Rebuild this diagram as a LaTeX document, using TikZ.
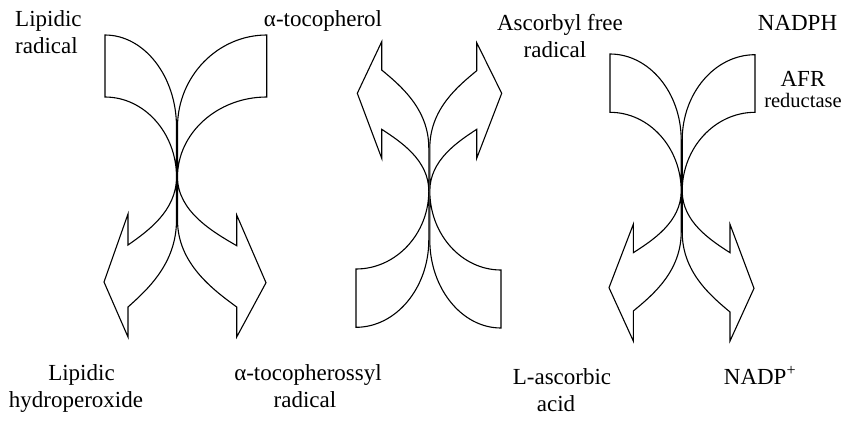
\documentclass[tikz,border=0pt]{standalone}
\usepackage{fontspec}
\setmainfont{Liberation Serif}
\begin{document}
\begin{tikzpicture}[x=1pt,y=-1pt,
  piece/.style={draw=black,line width=1.1pt,line join=miter,miter limit=20},
  lab/.style={inner sep=0pt,font=\fontsize{23}{27}\selectfont},
  smalllab/.style={inner sep=0pt,font=\fontsize{20.5}{24}\selectfont}]
\useasboundingbox (0,0) rectangle (845,421);

% ---------- shape 1 ----------
\draw[piece] (105,35) .. controls (144.3,35) and (176.5,76.4) .. (176.5,127) -- (176.5,220)
  .. controls (176.5,263.5) and (147.4,289.6) .. (128,307)
  -- (128,337) -- (104,282) -- (128,214) -- (128,245)
  .. controls (147.4,231.4) and (176.5,211) .. (176.5,177)
  .. controls (176.5,133) and (144.3,97) .. (105,97) -- cycle;
\draw[piece] (266.7,35) .. controls (217.7,35) and (177.5,76.4) .. (177.5,127) -- (177.5,220)
  .. controls (177.5,263.5) and (213,289.6) .. (236.7,307)
  -- (236.7,337) -- (266,282.7) -- (236.7,215) -- (236.7,245.7)
  .. controls (213,232) and (177.5,211.4) .. (177.5,177)
  .. controls (177.5,133) and (217.7,97) .. (266.7,97) -- cycle;

% ---------- shape 2 ----------
\draw[piece] (381.7,70) .. controls (400.5,85.6) and (428.8,109) .. (428.8,148) -- (428.8,240)
  .. controls (428.8,288) and (396,327.3) .. (356,327.3)
  -- (356,269)
  .. controls (396,269) and (428.8,233.9) .. (428.8,191)
  .. controls (428.8,160) and (400.5,141.6) .. (381.7,129.3)
  -- (381.7,158.3) -- (357.3,93.3) -- (381.7,41.7) -- cycle;
\draw[piece] (476.7,70.7) .. controls (458,86.2) and (429.8,109) .. (429.8,148) -- (429.8,240)
  .. controls (429.8,288.4) and (461.8,328) .. (501,328)
  -- (501,270)
  .. controls (461.8,270) and (429.8,234.5) .. (429.8,191)
  .. controls (429.8,160) and (458,141.6) .. (476.7,129.3)
  -- (476.7,158.3) -- (501.7,93.3) -- (476.7,42.7) -- cycle;

% ---------- shape 3 ----------
\draw[piece] (610,54) .. controls (649.2,54) and (681.2,92.7) .. (681.2,140) -- (681.2,232)
  .. controls (681.2,271.5) and (652.5,295.2) .. (633.3,311)
  -- (633.3,341) -- (609,287.7) -- (633.3,224.3) -- (633.3,252.7)
  .. controls (652.5,240.4) and (681.2,221.9) .. (681.2,191)
  .. controls (681.2,147.7) and (649.2,112.3) .. (610,112.3) -- cycle;
\draw[piece] (755,54.7) .. controls (715,54.7) and (682.2,93.1) .. (682.2,140) -- (682.2,232)
  .. controls (682.2,272) and (710.9,296) .. (730,312)
  -- (730,341) -- (754,288.3) -- (730,224.3) -- (730,252.7)
  .. controls (710.9,240.4) and (682.2,221.9) .. (682.2,191)
  .. controls (682.2,147.7) and (715,112.3) .. (755,112.3) -- cycle;

% ---------- labels ----------
\node[lab,anchor=base west] (lr1) at (15,26.7) {Lipidic};
\node[lab,anchor=base west] (lr2) at (15,53.3) {radical};
\node[lab,anchor=base] (toc) at (323,26.7) {α-tocopherol};
\node[lab,anchor=base] (af1) at (560,30) {Ascorbyl free};
\node[lab,anchor=base] (af2) at (555,57) {radical};
\node[lab,anchor=base] (nadph) at (797.5,30) {NADPH};
\node[lab,anchor=base] (afr) at (803,86) {AFR};
\node[smalllab,anchor=base] (red) at (803,107) {reductase};
\node[lab,anchor=base] (lh1) at (81.5,380.5) {Lipidic};
\node[lab,anchor=base] (lh2) at (76,407) {hydroperoxide};
\node[lab,anchor=base] (tr1) at (308,380.5) {α-tocopherossyl};
\node[lab,anchor=base] (tr2) at (305,407) {radical};
\node[lab,anchor=base] (la1) at (562,384.5) {L-ascorbic};
\node[lab,anchor=base] (la2) at (556,411) {acid};
\node[lab,anchor=base] (nadp) at (760,384.5) {NADP\textsuperscript{+}};
\end{tikzpicture}
\end{document}
